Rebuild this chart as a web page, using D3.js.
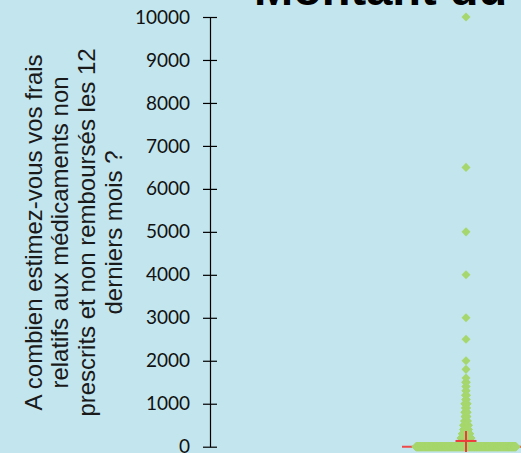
<!DOCTYPE html>
<html><head><meta charset="utf-8">
<script src="https://cdn.jsdelivr.net/npm/d3@7"></script>
<style>html,body{margin:0;padding:0;background:#c3e5ee;overflow:hidden}</style>
</head><body>
<svg id="c" width="521" height="453"></svg>
<script>
const title = "Montant du";
const category = ["Montant"];
const yLabelLines = ["A combien estimez-vous vos frais","relatifs aux médicaments non","prescrits et non remboursés les 12","derniers mois ?"];
const yTicks = [0,1000,2000,3000,4000,5000,6000,7000,8000,9000,10000];
const values = [0,10,20,30,50,80,100,150,200,250,300,400,500,600,700,800,900,1000,1100,1200,1300,1400,1500,1600,1800,2000,2500,3000,4000,5000,6500,10000];
const counts = [660,20,25,30,50,10,50,30,40,15,30,20,20,12,8,10,5,10,3,4,2,2,3,1,1,1,1,1,1,1,1,1];

const svg = d3.select("#c");
svg.append("rect").attr("width",521).attr("height",453).attr("fill","#c3e5ee");

const y = d3.scaleLinear().domain([0,10000]).range([446.7,17]);
const x = d3.scaleBand().domain(category).range([210,722]);
const cx = x(category[0]) + x.bandwidth()/2;

// data points: identical values spread side by side (capped width)
const pts = [];
values.forEach((v,k)=>{
  const c = counts[k];
  const w = Math.min(100, (c-1)*0.25);
  const step = c > 1 ? w/(c-1) : 0;
  for(let i=0;i<c;i++) pts.push({v, dx: -w/2 + i*step});
});
const mean = d3.sum(pts,d=>d.v)/pts.length;

// box (all quartiles at 0)
svg.append("line").attr("x1",cx-64).attr("x2",cx+64).attr("y1",y(0)).attr("y2",y(0))
  .attr("stroke","#ee4a4a").attr("stroke-width",2);

const sym = d3.symbol(d3.symbolSquare, 41);
svg.append("g").selectAll("path").data(pts).join("path")
  .attr("d", sym)
  .attr("transform", d=>`translate(${cx+d.dx},${y(d.v)}) rotate(45)`)
  .attr("fill","#a6d76e");

// mean cross
svg.append("line").attr("x1",cx-10.5).attr("x2",cx+10.5).attr("y1",y(mean)).attr("y2",y(mean))
  .attr("stroke","#ee3b3b").attr("stroke-width",2);
svg.append("line").attr("x1",cx).attr("x2",cx).attr("y1",y(mean)-10).attr("y2",y(mean)+11)
  .attr("stroke","#ee3b3b").attr("stroke-width",2);

// y axis
const axis = d3.axisLeft(y).tickValues(yTicks).tickFormat(d3.format("d")).tickSize(0).tickPadding(20);
const ag = svg.append("g").attr("transform","translate(210,0)").call(axis);
ag.select(".domain").attr("stroke","#000").attr("stroke-width",1.2);
ag.selectAll(".tick line").attr("x1",-7).attr("x2",7).attr("stroke","#000").attr("stroke-width",1.2);
ag.selectAll(".tick text").attr("font-family","Lato, Carlito, sans-serif").attr("font-size","19px").attr("fill","#111");

// y label
const lab = svg.append("text").attr("transform","translate(0,232.5) rotate(-90)")
  .attr("text-anchor","middle").attr("font-family","'Liberation Sans', Arial, sans-serif")
  .attr("font-size","24px").attr("fill","#1a1a1a");
const bases = [41.7,68.4,95.1,121.8];
yLabelLines.forEach((t,i)=>lab.append("tspan").attr("x",0).attr("y",bases[i]).text(t));

// title
svg.append("text").attr("x",254).attr("y",5).attr("font-family","'Liberation Sans', Arial, sans-serif")
  .attr("font-weight","bold").attr("font-size","47px").attr("fill","#000").text(title);
</script>
</body></html>
